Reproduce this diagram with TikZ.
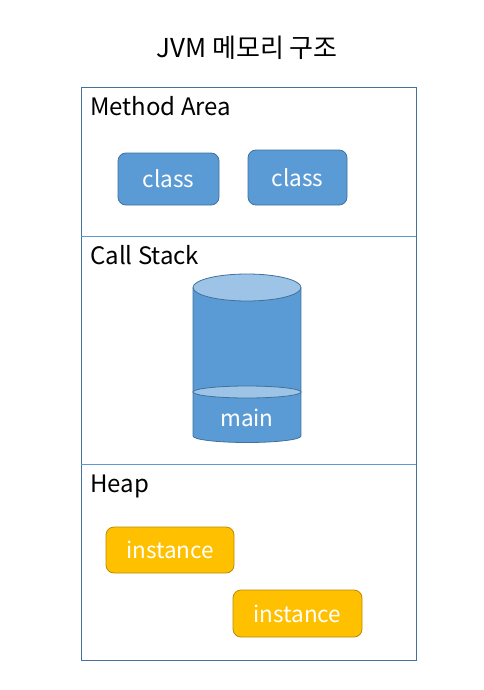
\documentclass[tikz,border=0pt]{standalone}
\usepackage{fontspec}
\setmainfont{Noto Sans CJK KR}
\definecolor{bfill}{HTML}{5B9BD5}
\definecolor{bline}{HTML}{41719C}
\definecolor{blight}{HTML}{9DC3E6}
\definecolor{yfill}{HTML}{FFC000}
\definecolor{yline}{HTML}{BC8C00}
\tikzset{
  classbox/.style={draw=bline,fill=bfill,rounded corners=8pt,line width=0.8pt,text=white,font=\fontsize{22.5}{26}\selectfont,inner sep=0pt},
  instbox/.style={draw=yline,fill=yfill,rounded corners=8pt,line width=0.8pt,text=white,font=\fontsize{22.5}{26}\selectfont,inner sep=0pt},
  seclabel/.style={anchor=base west,inner sep=0pt,font=\fontsize{24}{28}\selectfont},
}
\begin{document}
\begin{tikzpicture}[x=1pt,y=-1pt]
\useasboundingbox (0,0) rectangle (483,690);
\fill[white] (0,0) rectangle (483,690);
% title
\node[anchor=base,inner sep=0pt,font=\fontsize{26}{30}\selectfont] (title) at (247,58) {JVM 메모리 구조};
% frame
\draw[bline,line width=1pt] (81,88) rectangle (416,660);
\draw[bfill,line width=1pt] (81,236) -- (416,236);
\draw[bfill,line width=1pt] (81,464) -- (416,464);
% labels
\node[seclabel] (ma) at (90,116) {Method Area};
\node[seclabel] (cs) at (90,264) {Call Stack};
\node[seclabel] (hp) at (90,492) {Heap};
% method area
\node[classbox,minimum width=101pt,minimum height=52pt] (c1) at (168.5,179) {class};
\node[classbox,minimum width=99pt,minimum height=55pt] (c2) at (297.5,177.5) {class};
% cylinder
\fill[bfill] (193,287.5) rectangle (301,436);
\fill[bfill] (247,436) ellipse[x radius=54,y radius=6.5];
\draw[bline,line width=0.8pt] (193,287.5) -- (193,436) arc[start angle=180,end angle=0,x radius=54,y radius=6.5] -- (301,287.5);
\draw[bline,line width=0.8pt,fill=blight] (247,287.5) ellipse[x radius=54,y radius=13.5];
\draw[bline,line width=0.8pt,fill=blight] (247,392) ellipse[x radius=54,y radius=6];
\node[text=white,inner sep=0pt,font=\fontsize{22.5}{26}\selectfont] (main) at (247,418) {main};
% heap
\node[instbox,minimum width=128pt,minimum height=46pt] (i1) at (170,550) {instance};
\node[instbox,minimum width=129pt,minimum height=47pt] (i2) at (297.5,613.5) {instance};
\end{tikzpicture}
\end{document}
